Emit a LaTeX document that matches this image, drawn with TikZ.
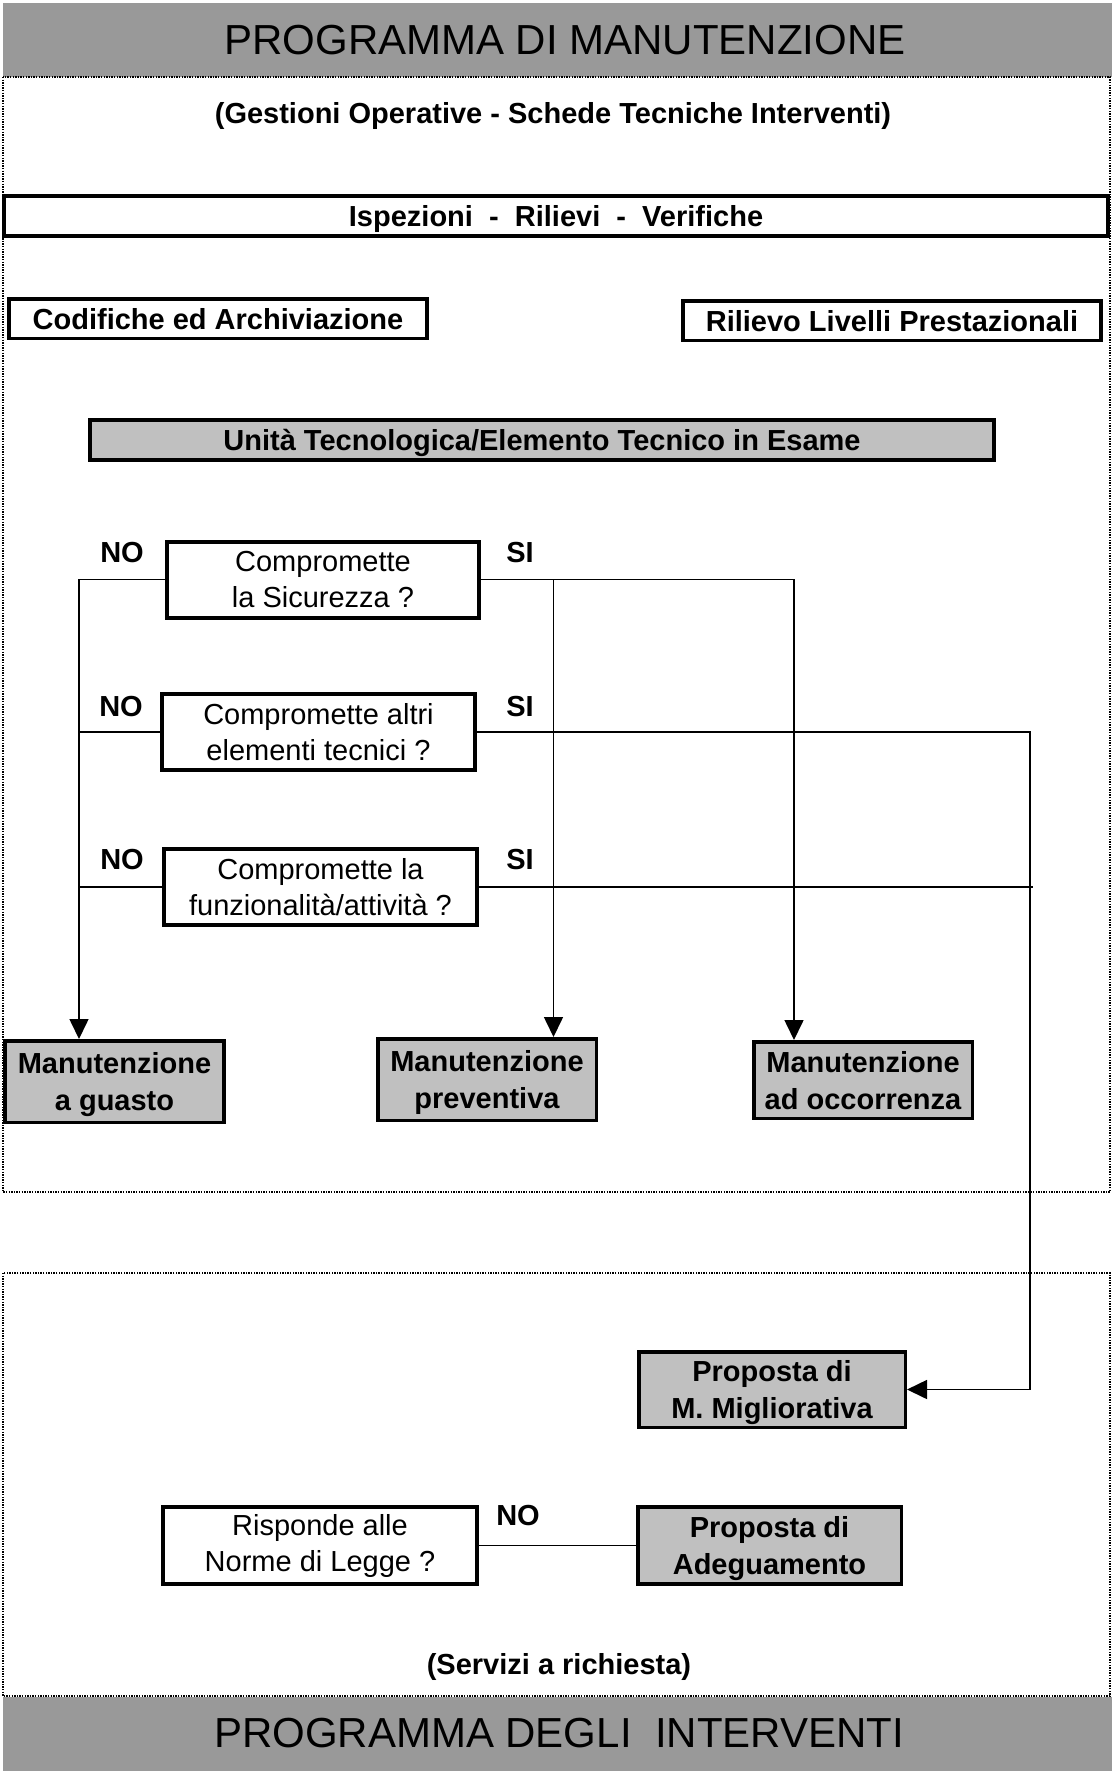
\documentclass[tikz,border=0pt]{standalone}
\usepackage{fontspec}
\setmainfont{Liberation Sans}
\usetikzlibrary{arrows.meta}

\definecolor{bandgray}{RGB}{153,153,153}
\definecolor{boxgray}{RGB}{192,192,192}

\begin{document}
\begin{tikzpicture}
[x=0.5pt,y=-0.5pt,
every node/.style={inner sep=0pt,font=\fontsize{14.5}{18}\selectfont},
frame/.style={line width=0.6pt,dash pattern=on 0.7pt off 0.6pt},
plainbox/.style={rectangle,draw=black,line width=1.75pt,fill=white,text depth=0pt,font=\bfseries\fontsize{14.5}{18}\selectfont},
askbox/.style={rectangle,draw=black,line width=2pt,fill=white,align=center,minimum width=156pt,minimum height=38pt},
resbox/.style={rectangle,draw=black,line width=1.75pt,fill=boxgray,align=center,text depth=0pt,font=\bfseries\fontsize{14.5}{18.5}\selectfont},
lab/.style={font=\bfseries\fontsize{14.5}{18}\selectfont},
link/.style={line width=0.8pt},
arr/.style={line width=0.8pt,-{Triangle[length=10pt,width=9.5pt]}}]

\useasboundingbox (0,0) rectangle (1112,1771);

% fasce grigie e riquadri
\fill[bandgray] (3,3) rectangle (1112,77);
\fill[bandgray] (3,1697) rectangle (1112,1771);
\draw[frame] (3,77) rectangle (1110,1192);
\draw[frame] (3,1273) rectangle (1110,1696);

\node[font=\fontsize{21}{25}\selectfont] (titolo) at (565,40) {PROGRAMMA DI MANUTENZIONE};
\node[font=\fontsize{21}{25}\selectfont] (interventi) at (559,1733) {PROGRAMMA DEGLI\ \ INTERVENTI};
\node[lab] (gestioni) at (553,116) {(Gestioni Operative - Schede Tecniche Interventi)};
\node[lab] (servizi) at (559,1667) {(Servizi a richiesta)};

\node[plainbox,line width=2pt,minimum width=552pt,minimum height=20pt] (ispezioni) at (556,216) {Ispezioni\ \ -\ \ Rilievi\ \ -\ \ Verifiche};
\node[plainbox,minimum width=209pt,minimum height=19.75pt] (codifiche) at (218,318.5) {Codifiche ed Archiviazione};
\node[plainbox,minimum width=209pt,minimum height=19.75pt] (rilievo) at (892,320.5) {Rilievo Livelli Prestazionali};
\node[resbox,minimum width=452pt,minimum height=20pt] (unita) at (542,440) {Unità Tecnologica/Elemento Tecnico in Esame};

% domande
\node[askbox] (sicurezza) at (323,579.5) {Compromette\\la Sicurezza ?};
\node[askbox,minimum width=156.5pt] (altri) at (318.5,732) {Compromette altri\\elementi tecnici ?};
\node[askbox,minimum width=156.5pt] (funzion) at (320.5,887) {Compromette la\\funzionalità/attività ?};
\node[askbox,minimum width=157pt,minimum height=38.5pt] (norme) at (320,1545.5) {Risponde alle\\Norme di Legge ?};

% esiti
\node[resbox,minimum width=109.5pt,minimum height=40.75pt] (guasto) at (114.5,1081.5) {Manutenzione\\a guasto};
\node[resbox,minimum width=109.25pt,minimum height=40.75pt] (preventiva) at (487,1079.5) {Manutenzione\\preventiva};
\node[resbox,minimum width=109.25pt,minimum height=38.25pt] (occorrenza) at (863,1080) {Manutenzione\\ad occorrenza};
\node[resbox,minimum width=133.25pt,minimum height=37.75pt] (migliorativa) at (772,1389.5) {Proposta di\\M. Migliorativa};
\node[resbox,minimum width=131.75pt,minimum height=38.5pt] (adeguamento) at (769.5,1545.5) {Proposta di\\Adeguamento};

\node[lab] (no1) at (122,553) {NO};
\node[lab] (no2) at (121,707) {NO};
\node[lab] (no3) at (122,860) {NO};
\node[lab] (si1) at (520,553) {SI};
\node[lab] (si2) at (520,707) {SI};
\node[lab] (si3) at (520,860) {SI};
\node[lab] (no4) at (518,1515) {NO};

\coordinate (xno) at (79,0);
\coordinate (xprev) at (553.5,0);
\coordinate (xocc) at (794,0);
\coordinate (xmig) at (1030,0);

\draw[arr] (sicurezza.west) -| (xno |- guasto.north);
\draw[link] (altri.west) -- (altri.west -| xno);
\draw[link] (funzion.west) -- (funzion.west -| xno);
\draw[arr] (sicurezza.east) -| (xocc |- occorrenza.north);
\draw[arr] (sicurezza.east -| xprev) -- (xprev |- preventiva.north);
\draw[arr] (altri.east) -| (xmig |- migliorativa.east) -- (migliorativa.east);
\draw[link] (funzion.east) -- ([xshift=1.5pt]funzion.east -| xmig);
\draw[link] (norme.east) -- (adeguamento.west);
\end{tikzpicture}
\end{document}
